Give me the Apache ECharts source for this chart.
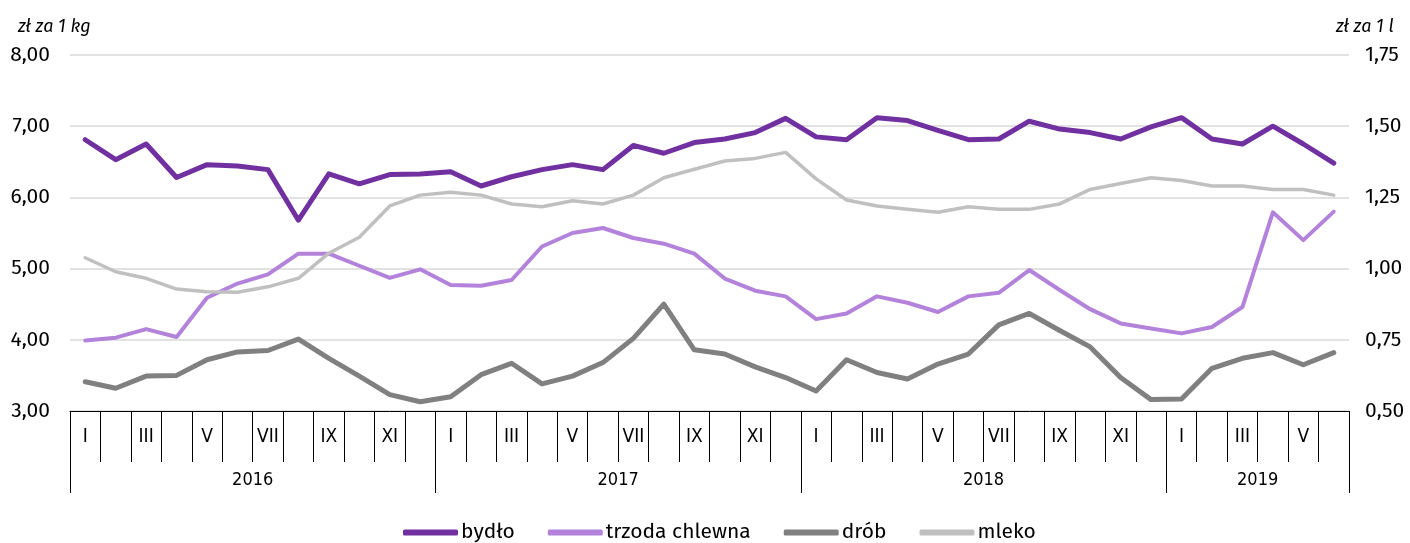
<!DOCTYPE html>
<html>
<head>
<meta charset="utf-8">
<script src="https://cdn.jsdelivr.net/npm/echarts@6/dist/echarts.min.js"></script>
<style>html,body{margin:0;padding:0;background:#fff}#c{width:1410px;height:543px}</style>
</head>
<body>
<div id="c"></div>
<script>
const years = ['2016', '2017', '2018', '2019'];
const monthsInYear = [12, 12, 12, 6];
const monthNames = ['I','II','III','IV','V','VI','VII','VIII','IX','X','XI','XII'];

const bydlo = [6.81,6.53,6.75,6.28,6.46,6.44,6.39,5.68,6.33,6.19,6.32,6.33,
               6.36,6.16,6.29,6.39,6.46,6.39,6.73,6.62,6.77,6.82,6.91,7.11,
               6.85,6.81,7.12,7.08,6.94,6.81,6.82,7.07,6.96,6.91,6.82,6.99,
               7.12,6.82,6.75,7.00,6.75,6.48];
const trzoda = [3.99,4.03,4.15,4.04,4.59,4.79,4.92,5.21,5.21,5.04,4.87,4.99,
                4.77,4.76,4.84,5.31,5.50,5.57,5.43,5.35,5.21,4.86,4.69,4.61,
                4.29,4.37,4.61,4.52,4.39,4.61,4.66,4.98,4.70,4.43,4.23,4.16,
                4.09,4.18,4.46,5.79,5.40,5.80];
const drob = [3.41,3.32,3.49,3.50,3.72,3.83,3.85,4.01,3.74,3.49,3.23,3.13,
              3.20,3.51,3.67,3.38,3.49,3.68,4.02,4.50,3.86,3.80,3.62,3.47,
              3.28,3.72,3.54,3.45,3.66,3.80,4.21,4.37,4.13,3.90,3.47,3.16,
              3.17,3.60,3.74,3.82,3.65,3.82];
const mleko = [1.038,0.989,0.966,0.928,0.919,0.917,0.936,0.966,1.054,1.110,1.220,1.258,
               1.268,1.258,1.227,1.217,1.238,1.227,1.258,1.319,1.349,1.378,1.387,1.408,
               1.315,1.241,1.220,1.208,1.198,1.217,1.208,1.208,1.227,1.278,1.299,1.319,
               1.309,1.290,1.290,1.278,1.278,1.258];

const seriesNames = ['bydło', 'trzoda chlewna', 'drób', 'mleko'];
const colors = ['#7030a0', '#b383db', '#808080', '#c0c0c0'];

// build categories
const categories = [];
years.forEach((y, yi) => {
  for (let m = 0; m < monthsInYear[yi]; m++) categories.push(y + '-' + monthNames[m]);
});
const total = categories.length;
const yearBounds = [0];
const yearCenters = [];
let acc = 0;
monthsInYear.forEach(n => { yearCenters.push(acc + n / 2); acc += n; yearBounds.push(acc); });

const FONT = '"Fira Sans", "Open Sans", "Noto Sans", sans-serif';
const NARROW = '"Liberation Sans Narrow", "DejaVu Sans Condensed", "Roboto Condensed", Roboto, sans-serif';
const fmt = v => v.toFixed(2).replace('.', ',');

const chart = echarts.init(document.getElementById('c'), null, {renderer: 'canvas'});
function line(name, data, color, width, yIdx) {
  return {
    name, type: 'line', data, yAxisIndex: yIdx, xAxisIndex: 0,
    symbol: 'none', showSymbol: false, animation: false,
    lineStyle: {color, width, cap: 'round', join: 'round'},
    itemStyle: {color}
  };
}
chart.setOption({
  animation: false,
  color: colors,
  title: [
    {text: 'zł za 1 kg', left: 13, top: 13, textStyle: {fontFamily: FONT, fontStyle: 'italic', fontWeight: 'normal', fontSize: 18, color: '#000'}},
    {text: 'zł za 1 l', left: 1331, top: 13, textStyle: {fontFamily: FONT, fontStyle: 'italic', fontWeight: 'normal', fontSize: 18, color: '#000'}}
  ],
  grid: {left: 70, right: 61, top: 55, bottom: 132, containLabel: false},
  legend: {
    data: seriesNames.map(n => ({name: n, icon: 'roundRect'})),
    top: 517, left: 398,
    itemWidth: 55, itemHeight: 6, itemGap: 33,
    textStyle: {fontFamily: FONT, fontSize: 21, color: '#000', padding: [0, 0, 0, -2]}
  },
  xAxis: [
    {
      type: 'category', data: categories, position: 'bottom', boundaryGap: true,
      axisLine: {show: true, lineStyle: {color: '#000', width: 1}},
      axisTick: {show: true, interval: 0, length: 51, lineStyle: {color: '#000', width: 1}},
      axisLabel: {interval: 1, margin: 17, fontFamily: NARROW, fontSize: 19, color: '#000',
                  formatter: v => v.split('-')[1]},
      splitLine: {show: false}
    },
    {
      type: 'value', position: 'bottom', min: 0, max: total,
      axisLine: {show: false},
      axisTick: {show: true, customValues: yearBounds, length: 82, lineStyle: {color: '#000', width: 1}},
      axisLabel: {show: true, customValues: yearCenters, margin: 60, fontFamily: NARROW, fontSize: 18, color: '#000',
                  formatter: v => years[yearCenters.indexOf(v)] || ''},
      splitLine: {show: false}
    }
  ],
  yAxis: [
    {
      type: 'value', min: 3, max: 8, interval: 1, position: 'left',
      axisLine: {show: false}, axisTick: {show: false},
      axisLabel: {margin: 20, fontFamily: FONT, fontSize: 21, color: '#000', formatter: fmt},
      splitLine: {show: true, lineStyle: {color: '#d9d9d9', width: 1.5}}
    },
    {
      type: 'value', min: 0.5, max: 1.75, interval: 0.25, position: 'right',
      axisLine: {show: false}, axisTick: {show: false},
      axisLabel: {margin: 16, fontFamily: FONT, fontSize: 21, color: '#000', formatter: fmt},
      splitLine: {show: false}
    }
  ],
  series: [
    line(seriesNames[0], bydlo, colors[0], 5, 0),
    line(seriesNames[1], trzoda, colors[1], 4, 0),
    line(seriesNames[2], drob, colors[2], 5, 0),
    line(seriesNames[3], mleko, colors[3], 3.5, 1)
  ]
});
</script>
</body>
</html>
